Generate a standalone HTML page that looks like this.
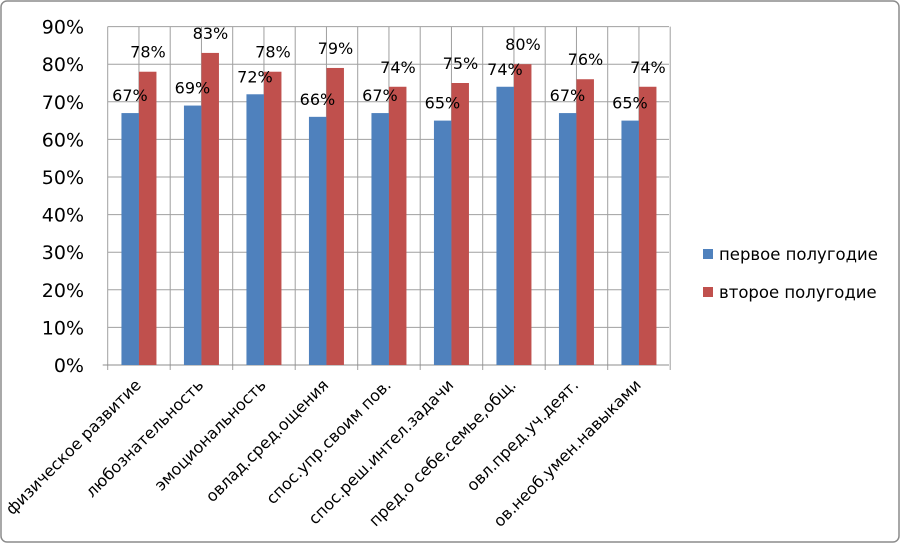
<!DOCTYPE html>
<html><head><meta charset="utf-8"><style>body{margin:0;background:#fff}svg{display:block}text{font-family:"DejaVu Sans","Liberation Sans",sans-serif;fill:#000}</style></head><body>
<svg width="903" height="545" xmlns="http://www.w3.org/2000/svg">
<rect x="1" y="1" width="898" height="541" rx="6" fill="#fff" stroke="#8c8c8c" stroke-width="1.5"/>
</svg>
<script>
const svg=document.querySelector('svg');const NS="http://www.w3.org/2000/svg";
function el(n,a,t){const e=document.createElementNS(NS,n);for(const k in a)e.setAttribute(k,a[k]);if(t!==undefined)e.textContent=t;svg.appendChild(e);return e;}
const x0=107.7,cw=62.5,y0=365,u=3.76;
const cats=["физическое развитие","любознательность","эмоциональность","овлад.сред.ощения","спос.упр.своим пов.","спос.реш.интел.задачи","пред.о себе,семье,общ.","овл.пред.уч.деят.","ов.необ.умен.навыками"];
const a=[67,69,72,66,67,65,74,67,65],b=[78,83,78,79,74,75,80,76,74];
for(let i=1;i<=9;i++){const y=y0-i*10*u;el('line',{x1:x0,x2:669,y1:y,y2:y,stroke:'#a0a0a0','stroke-width':1});}
for(let i=0;i<=18;i++){const x=x0+i*cw/2;el('line',{x1:x,x2:x,y1:y0-90*u,y2:y0+(i%2==0?5:0),stroke:'#a0a0a0','stroke-width':1});}
el('line',{x1:x0-5,x2:669,y1:y0,y2:y0,stroke:'#8c8c8c','stroke-width':1});
for(let i=0;i<=9;i++){el('text',{x:84,y:y0-i*10*u+7,'font-size':19,'text-anchor':'end'},(i*10)+'%');}
for(let i=0;i<9;i++){const c=x0+cw*i+cw/2;
el('rect',{x:c-17.5,y:y0-a[i]*u,width:17.5,height:a[i]*u,fill:'#4f81bd'});
el('rect',{x:c,y:y0-b[i]*u,width:17.5,height:b[i]*u,fill:'#c0504d'});
el('text',{x:c-9,y:y0-a[i]*u-12,'font-size':16,'text-anchor':'middle'},a[i]+'%');
el('text',{x:c+9,y:y0-b[i]*u-14,'font-size':16,'text-anchor':'middle'},b[i]+'%');
el('text',{x:c+3,y:y0+21,'font-size':16,'text-anchor':'end',transform:`rotate(-45 ${c+3} ${y0+21})`},cats[i]);}
el('rect',{x:703,y:249,width:10,height:10,fill:'#4f81bd'});
el('text',{x:719,y:260,'font-size':16.5},'первое полугодие');
el('rect',{x:703,y:287,width:10,height:10,fill:'#c0504d'});
el('text',{x:719,y:298,'font-size':16.5},'второе полугодие');
</script>
</body></html>
